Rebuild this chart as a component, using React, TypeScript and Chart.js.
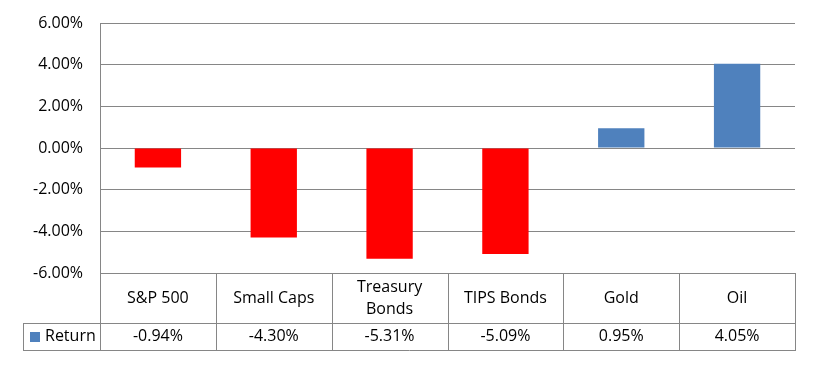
import React, { useEffect, useRef } from 'react';
import { Chart, registerables } from 'chart.js';

Chart.register(...registerables);

const categories: string[][] = [['S&P 500'], ['Small Caps'], ['Treasury', 'Bonds'], ['TIPS Bonds'], ['Gold'], ['Oil']];
const seriesName = 'Return';
const returns = [-0.94, -4.3, -5.31, -5.09, 0.95, 4.05];
const yMin = -6;
const yMax = 6;
const yStep = 2;

const POS_COLOR = '#4F81BD';
const NEG_COLOR = '#FF0000';
const GRID = '#868686';
const FONT = '"Open Sans", sans-serif';
const FONT_SIZE = 16;

const fmt = (v: number) => v.toFixed(2) + '%';

const tablePlugin = {
  id: 'dataTable',
  afterDraw(chart: any) {
    const { ctx, chartArea } = chart;
    const left = chartArea.left;
    const right = chartArea.right;
    const top = chartArea.bottom;
    const headerH = 50;
    const rowH = 27;
    const legendLeft = 23;
    const n = categories.length;
    const w = (right - left) / n;
    const crisp = (v: number) => Math.round(v) + 0.5;
    ctx.save();
    ctx.strokeStyle = GRID;
    ctx.lineWidth = 1;
    ctx.beginPath();
    ctx.moveTo(left, crisp(top));
    ctx.lineTo(right, crisp(top));
    ctx.moveTo(legendLeft, crisp(top + headerH));
    ctx.lineTo(right, crisp(top + headerH));
    ctx.moveTo(legendLeft, crisp(top + headerH + rowH));
    ctx.lineTo(right + 1, crisp(top + headerH + rowH));
    for (let i = 0; i <= n; i++) {
      const xx = crisp(left + i * w);
      ctx.moveTo(xx, top);
      ctx.lineTo(xx, top + headerH + rowH);
    }
    ctx.moveTo(crisp(legendLeft), top + headerH);
    ctx.lineTo(crisp(legendLeft), top + headerH + rowH);
    ctx.stroke();

    ctx.fillStyle = '#000';
    ctx.font = `${FONT_SIZE}px ${FONT}`;
    ctx.textAlign = 'center';
    ctx.textBaseline = 'middle';
    const lh = 22;
    categories.forEach((lines, i) => {
      const cx = left + (i + 0.5) * w;
      const cy = top + headerH / 2;
      lines.forEach((line, j) => {
        ctx.fillText(line, cx, cy + (j - (lines.length - 1) / 2) * lh);
      });
      ctx.fillText(fmt(returns[i]), cx, top + headerH + rowH / 2);
    });
    const ry = top + headerH + rowH / 2;
    ctx.fillStyle = POS_COLOR;
    ctx.fillRect(30, Math.round(ry - 5), 10, 10);
    ctx.fillStyle = '#000';
    ctx.textAlign = 'left';
    ctx.fillText(seriesName, 45, ry);
    ctx.restore();
  },
};

export default function App() {
  const ref = useRef<HTMLCanvasElement>(null);
  useEffect(() => {
    if (!ref.current) return;
    const chart = new Chart(ref.current, {
      type: 'bar',
      data: {
        labels: categories,
        datasets: [
          {
            label: seriesName,
            data: returns,
            backgroundColor: returns.map((v) => (v < 0 ? NEG_COLOR : POS_COLOR)),
            barPercentage: 0.4,
            categoryPercentage: 1.0,
          },
        ],
      },
      options: {
        animation: false,
        responsive: true,
        maintainAspectRatio: false,
        layout: { padding: { top: 23, right: 18, bottom: 93, left: 0 } },
        plugins: { legend: { display: false }, tooltip: { enabled: false } },
        scales: {
          x: { display: false },
          y: {
            min: yMin,
            max: yMax,
            ticks: {
              stepSize: yStep,
              callback: (v: any) => fmt(Number(v)),
              color: '#000',
              padding: 17,
              font: { family: FONT, size: FONT_SIZE },
            },
            grid: { color: GRID, drawTicks: false },
            border: { display: true, color: GRID },
            afterFit: (scale: any) => {
              scale.width = 100;
              scale.paddingTop = 0;
              scale.paddingBottom = 0;
            },
          },
        },
      },
      plugins: [tablePlugin],
    });
    return () => chart.destroy();
  }, []);
  return (
    <div style={{ position: 'fixed', left: 0, top: 0, width: 813, height: 366, background: '#fff' }}>
      <canvas ref={ref} />
    </div>
  );
}
